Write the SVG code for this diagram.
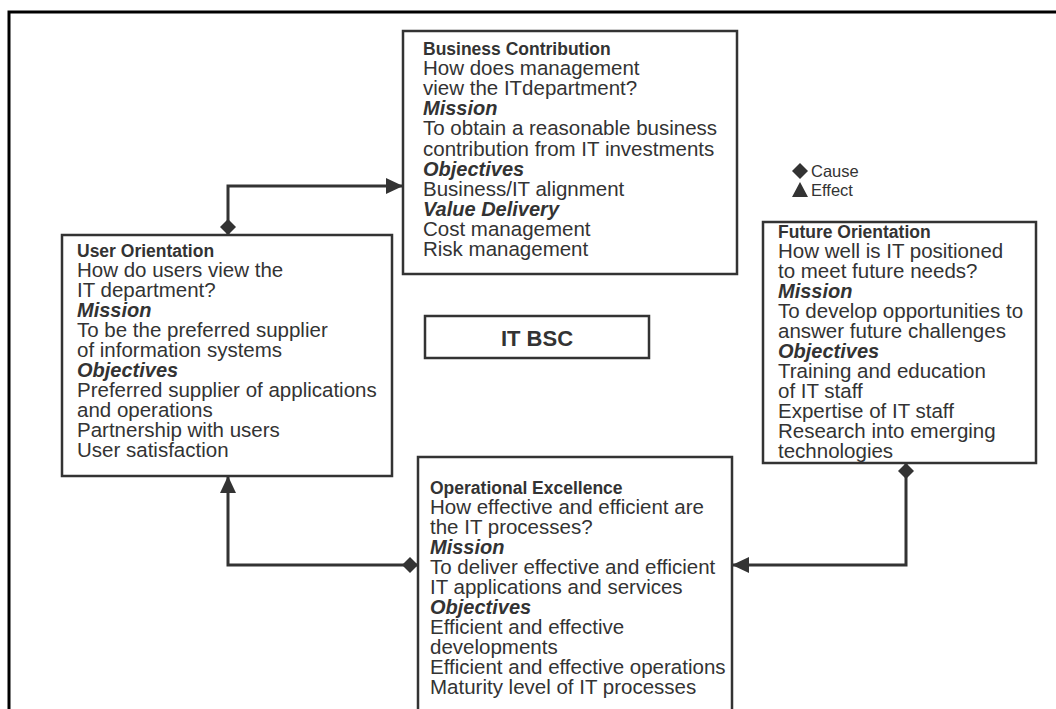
<svg xmlns="http://www.w3.org/2000/svg" width="1056" height="709" viewBox="0 0 1056 709">
<style>
.box{fill:#fff;stroke:#333;stroke-width:2.5}
.t{font-family:"Liberation Sans",Arial,sans-serif;font-size:20.5px;fill:#333}
.h{font-weight:bold;font-size:17.5px}
.s{font-weight:bold;font-style:italic;font-size:20px}
.c{fill:none;stroke:#333;stroke-width:3}
</style>
<defs>
<marker id="cause" markerUnits="userSpaceOnUse" markerWidth="20" markerHeight="20" viewBox="0 -10 20 20" refX="0" refY="0" orient="auto">
<path d="M0,0 L8,-8 L16,0 L8,8 Z" fill="#333"/>
</marker>
<marker id="effect" markerUnits="userSpaceOnUse" markerWidth="20" markerHeight="20" viewBox="0 -10 20 20" refX="17" refY="0" orient="auto">
<path d="M0,-8 L17,0 L0,8 Z" fill="#333"/>
</marker>
</defs>
<rect width="1056" height="709" fill="#fff"/>
<path d="M9,709 V12 H1056" fill="none" stroke="#000" stroke-width="3"/>

<g id="connectors">
<path class="c" d="M228,235 V186 H403" marker-start="url(#cause)" marker-end="url(#effect)"/>
<path class="c" d="M418,565 H228 V476" marker-start="url(#cause)" marker-end="url(#effect)"/>
<path class="c" d="M906,463 V565 H732" marker-start="url(#cause)" marker-end="url(#effect)"/>
</g>

<g id="legend">
<path d="M792,171 L800,163 L808,171 L800,179 Z" fill="#333"/>
<path d="M792,197 L800,182 L808,197 Z" fill="#333"/>
<text class="t" x="811" y="177" style="font-size:16.5px">Cause</text>
<text class="t" x="811" y="196" style="font-size:16.5px">Effect</text>
</g>

<g id="business">
<rect class="box" x="403" y="31" width="334" height="243"/>
<text class="t" x="423" y="55"><tspan class="h">Business Contribution</tspan><tspan x="423" dy="20.1">How does management</tspan><tspan x="423" dy="20.1">view the ITdepartment?</tspan><tspan x="423" dy="20.1" class="s">Mission</tspan><tspan x="423" dy="20.1">To obtain a reasonable business</tspan><tspan x="423" dy="20.1">contribution from IT investments</tspan><tspan x="423" dy="20.1" class="s">Objectives</tspan><tspan x="423" dy="20.1">Business/IT alignment</tspan><tspan x="423" dy="20.1" class="s">Value Delivery</tspan><tspan x="423" dy="20.1">Cost management</tspan><tspan x="423" dy="20.1">Risk management</tspan></text>
</g>

<g id="user">
<rect class="box" x="62" y="235" width="330" height="241"/>
<text class="t" x="77" y="257"><tspan class="h">User Orientation</tspan><tspan x="77" dy="20">How do users view the</tspan><tspan x="77" dy="20">IT department?</tspan><tspan x="77" dy="20" class="s">Mission</tspan><tspan x="77" dy="20">To be the preferred supplier</tspan><tspan x="77" dy="20">of information systems</tspan><tspan x="77" dy="20" class="s">Objectives</tspan><tspan x="77" dy="20">Preferred supplier of applications</tspan><tspan x="77" dy="20">and operations</tspan><tspan x="77" dy="20">Partnership with users</tspan><tspan x="77" dy="20">User satisfaction</tspan></text>
</g>

<g id="itbsc">
<rect class="box" x="425" y="316" width="224" height="42"/>
<text class="t" x="537" y="346" text-anchor="middle" style="font-weight:bold;font-size:22px">IT BSC</text>
</g>

<g id="future">
<rect class="box" x="763" y="222" width="273" height="241"/>
<text class="t" x="778" y="238"><tspan class="h">Future Orientation</tspan><tspan x="778" dy="20">How well is IT positioned</tspan><tspan x="778" dy="20">to meet future needs?</tspan><tspan x="778" dy="20" class="s">Mission</tspan><tspan x="778" dy="20">To develop opportunities to</tspan><tspan x="778" dy="20">answer future challenges</tspan><tspan x="778" dy="20" class="s">Objectives</tspan><tspan x="778" dy="20">Training and education</tspan><tspan x="778" dy="20">of IT staff</tspan><tspan x="778" dy="20">Expertise of IT staff</tspan><tspan x="778" dy="20">Research into emerging</tspan><tspan x="778" dy="20">technologies</tspan></text>
</g>

<g id="operational">
<rect class="box" x="418" y="457" width="314" height="270"/>
<text class="t" x="430" y="494"><tspan class="h">Operational Excellence</tspan><tspan x="430" dy="20">How effective and efficient are</tspan><tspan x="430" dy="20">the IT processes?</tspan><tspan x="430" dy="20" class="s">Mission</tspan><tspan x="430" dy="20">To deliver effective and efficient</tspan><tspan x="430" dy="20">IT applications and services</tspan><tspan x="430" dy="20" class="s">Objectives</tspan><tspan x="430" dy="20">Efficient and effective</tspan><tspan x="430" dy="20">developments</tspan><tspan x="430" dy="20">Efficient and effective operations</tspan><tspan x="430" dy="20">Maturity level of IT processes</tspan></text>
</g>
</svg>
